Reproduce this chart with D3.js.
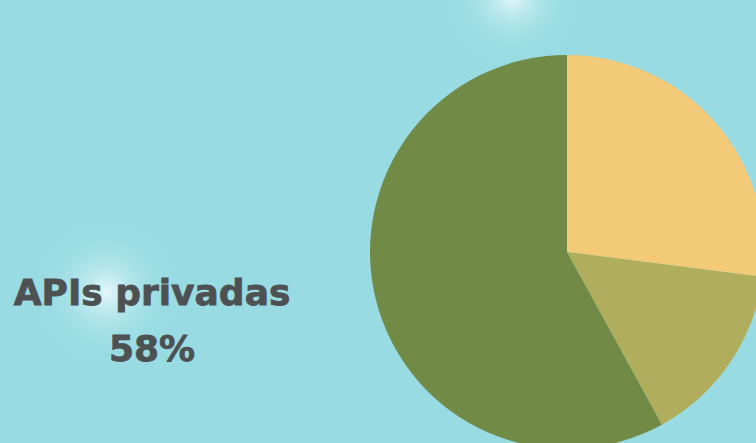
<!DOCTYPE html>
<html>
<head>
<meta charset="utf-8">
<script src="https://cdn.jsdelivr.net/npm/d3@7"></script>
<style>
  html, body { margin: 0; padding: 0; }
  body { width: 756px; height: 443px; overflow: hidden; background: #98dbe3; }
  svg { display: block; }
</style>
</head>
<body>
<svg width="756" height="443"></svg>
<script>
// slice data (clockwise from 12 o'clock)
const categories = ['APIs públicas', 'APIs híbridas', 'APIs privadas'];
const shares = [27, 15, 58];
const colors = ['#f3ca78', '#b0ae5c', '#718a45'];
const labelLines = ['APIs privadas', '58%'];

const svg = d3.select('svg');
const defs = svg.append('defs');

const glow = defs.append('radialGradient').attr('id', 'glow');
glow.append('stop').attr('offset', '0%').attr('stop-color', '#ffffff').attr('stop-opacity', 0.75);
glow.append('stop').attr('offset', '30%').attr('stop-color', '#d4f3f5').attr('stop-opacity', 0.5);
glow.append('stop').attr('offset', '65%').attr('stop-color', '#aee6ea').attr('stop-opacity', 0.2);
glow.append('stop').attr('offset', '100%').attr('stop-color', '#98dbe3').attr('stop-opacity', 0);

svg.append('rect').attr('width', 756).attr('height', 443).attr('fill', '#98dbe3');

// soft light spots in the background
svg.append('circle').attr('cx', 512).attr('cy', -4).attr('r', 75).attr('fill', 'url(#glow)');
svg.append('circle').attr('cx', 106).attr('cy', 292).attr('r', 80).attr('fill', 'url(#glow)');

const cx = 567, cy = 252, radius = 197;

const pie = d3.pie().sort(null).value(d => d.v);
const arc = d3.arc().innerRadius(0).outerRadius(radius);

const table = categories.map((c, i) => ({ name: c, v: shares[i], color: colors[i] }));

svg.append('g')
  .attr('transform', `translate(${cx},${cy})`)
  .selectAll('path')
  .data(pie(table))
  .join('path')
    .attr('d', arc)
    .attr('fill', d => d.data.color);

svg.append('g')
  .selectAll('text')
  .data(labelLines)
  .join('text')
    .attr('x', 152)
    .attr('y', (d, i) => 305 + i * 56)
    .attr('text-anchor', 'middle')
    .attr('font-family', 'DejaVu Sans, sans-serif')
    .attr('font-weight', 'bold')
    .attr('font-size', 36)
    .attr('fill', '#4d5152')
    .attr('stroke', '#4d5152')
    .attr('stroke-width', 0.8)
    .text(d => d);
</script>
</body>
</html>
